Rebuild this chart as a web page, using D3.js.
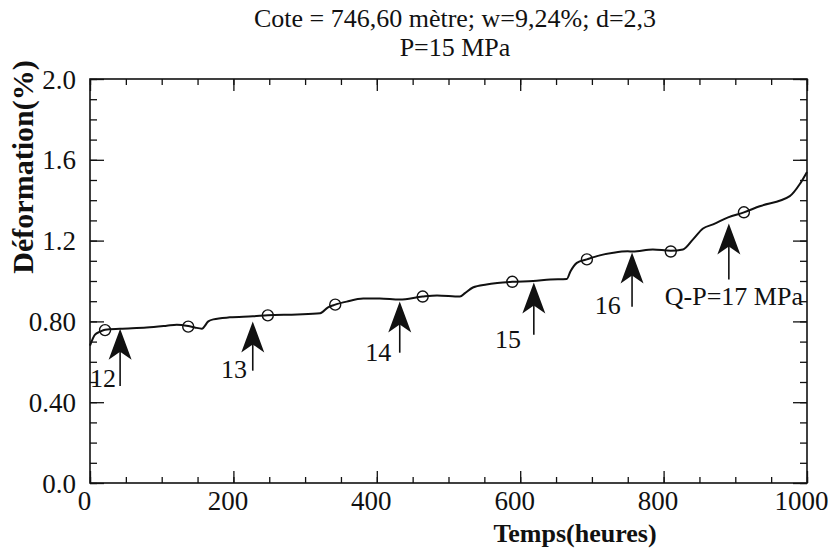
<!DOCTYPE html>
<html>
<head>
<meta charset="utf-8">
<script src="https://cdn.jsdelivr.net/npm/d3@7"></script>
<style>
  body { margin: 0; background: #fff; }
</style>
</head>
<body>
<div id="chart"></div>
<script>
// Courbe de fluage (temps en heures, deformation en %)
const timeH = [0, 7, 14, 21, 42, 79, 107, 121, 137, 146, 156, 165, 172, 195, 227, 248, 289, 321, 332, 342,
    358, 381, 404, 432, 464, 484, 516, 523, 534, 553, 568, 589, 618, 642, 665, 670, 679, 693, 711, 730,
    750, 757, 785, 810, 827, 841, 855, 869, 890, 912, 934, 976, 990, 1000];
const deform = [0.68, 0.734, 0.749, 0.759, 0.764, 0.77, 0.779, 0.784, 0.777, 0.77, 0.764, 0.80, 0.81, 0.82, 0.825, 0.83, 0.834, 0.84, 0.87, 0.883,
    0.898, 0.913, 0.913, 0.908, 0.923, 0.928, 0.923, 0.94, 0.968, 0.983, 0.99, 0.996, 1.0, 1.007, 1.01, 1.047, 1.09, 1.107, 1.127, 1.14,
    1.147, 1.146, 1.156, 1.15, 1.156, 1.206, 1.26, 1.28, 1.315, 1.34, 1.37, 1.42, 1.48, 1.54];

// cercles
const markT = [21, 137, 248, 342, 464, 589, 693, 810, 912];
const markD = [0.757, 0.774, 0.83, 0.883, 0.923, 0.996, 1.107, 1.146, 1.34];

// fleches (paliers de chargement)
const arrowT = [42, 227, 432, 619, 756, 891];
const arrowTip = [0.764, 0.80, 0.898, 0.993, 1.141, 1.285];
const arrowTail = [0.48, 0.556, 0.645, 0.734, 0.873, 1.007];
const arrowLabels = ["12", "13", "14", "15", "16", "Q-P=17 MPa"];
const labelT = [18, 201, 402, 583, 722, 898];
const labelD = [0.476, 0.521, 0.605, 0.670, 0.839, 0.883];

const xTicks = [0, 200, 400, 600, 800, 1000];
const yTicks = [0, 0.4, 0.8, 1.2, 1.6, 2.0];
const yTickLabels = ["0.0", "0.40", "0.80", "1.2", "1.6", "2.0"];

const titleLines = ["Cote = 746,60 mètre; w=9,24%; d=2,3", "P=15 MPa"];
const xTitle = "Temps(heures)";
const yTitle = "Déformation(%)";

const width = 828, height = 548;
const margin = { top: 79, right: 21, bottom: 65, left: 90 };
const serif = "'Liberation Serif', 'Times New Roman', 'DejaVu Serif', serif";
const ink = "#111";

const svg = d3.select("#chart").append("svg")
    .attr("width", width)
    .attr("height", height);

const x = d3.scaleLinear().domain([0, 1000]).range([margin.left, width - margin.right]);
const y = d3.scaleLinear().domain([0, 2]).range([height - margin.bottom, margin.top]);

// frame
svg.append("rect")
    .attr("x", x(0)).attr("y", y(2))
    .attr("width", x(1000) - x(0)).attr("height", y(0) - y(2))
    .attr("fill", "none").attr("stroke", ink).attr("stroke-width", 1.6);

// ticks (inward), minor and major, on all four sides
function tickAxis(axis, values, size, transform) {
    const g = svg.append("g")
        .attr("transform", transform)
        .call(axis.tickValues(values).tickSizeInner(-size).tickSizeOuter(0).tickFormat(""));
    g.select(".domain").remove();
    g.selectAll("line").attr("stroke", ink).attr("stroke-width", 1.3);
    return g;
}
const minorX = d3.range(0, 1001, 50), minorY = d3.range(0, 2.001, 0.1);
tickAxis(d3.axisBottom(x), minorX, 6, `translate(0,${y(0)})`);
tickAxis(d3.axisBottom(x), xTicks, 12, `translate(0,${y(0)})`);
tickAxis(d3.axisTop(x), minorX, 6, `translate(0,${y(2)})`);
tickAxis(d3.axisTop(x), xTicks, 12, `translate(0,${y(2)})`);
tickAxis(d3.axisLeft(y), minorY, 7, `translate(${x(0)},0)`);
tickAxis(d3.axisLeft(y), yTicks, 14, `translate(${x(0)},0)`);
tickAxis(d3.axisRight(y), minorY, 7, `translate(${x(1000)},0)`);
tickAxis(d3.axisRight(y), yTicks, 14, `translate(${x(1000)},0)`);

// tick labels
const xAxis = svg.append("g")
    .attr("transform", `translate(0,${y(0)})`)
    .call(d3.axisBottom(x).tickValues(xTicks).tickSize(0).tickPadding(8).tickFormat(d3.format("d")));
xAxis.select(".domain").remove();
xAxis.selectAll("text").attr("font-size", 27).attr("dx", -6)
    .attr("font-family", serif).attr("fill", ink);

const yAxis = svg.append("g")
    .attr("transform", `translate(${x(0)},0)`)
    .call(d3.axisLeft(y).tickValues(yTicks).tickSize(0).tickPadding(14).tickFormat((d, i) => yTickLabels[i]));
yAxis.select(".domain").remove();
yAxis.selectAll("text").attr("font-size", 27).attr("dy", "0.34em")
    .attr("font-family", serif).attr("fill", ink);

// curve
const pts = timeH.map((t, i) => [t, deform[i]]);
svg.append("path")
    .datum(pts)
    .attr("fill", "none")
    .attr("stroke", ink)
    .attr("stroke-width", 2)
    .attr("stroke-linejoin", "round")
    .attr("d", d3.line().x(d => x(d[0])).y(d => y(d[1])).curve(d3.curveMonotoneX));

// markers (open, the curve shows through)
svg.append("g").selectAll("circle")
    .data(markT.map((t, i) => [t, markD[i]]))
    .join("circle")
    .attr("cx", d => x(d[0]))
    .attr("cy", d => y(d[1]))
    .attr("r", 5.5)
    .attr("fill", "none")
    .attr("stroke", ink)
    .attr("stroke-width", 1.4);

// arrows
const arrows = svg.append("g").selectAll("g")
    .data(arrowT.map((t, i) => ({ t, tip: arrowTip[i], tail: arrowTail[i], label: arrowLabels[i], lt: labelT[i], ld: labelD[i] })))
    .join("g");

arrows.append("line")
    .attr("x1", d => x(d.t)).attr("x2", d => x(d.t))
    .attr("y1", d => y(d.tip) + 20).attr("y2", d => y(d.tail))
    .attr("stroke", ink).attr("stroke-width", 1.6);

arrows.append("path")
    .attr("transform", d => `translate(${x(d.t)},${y(d.tip)})`)
    .attr("d", "M0,0 L11.5,31 L0,23 L-11.5,31 Z")
    .attr("fill", ink);

arrows.append("text")
    .attr("x", d => x(d.lt))
    .attr("y", d => y(d.ld))
    .attr("text-anchor", "middle")
    .attr("font-family", serif)
    .attr("font-size", 26)
    .attr("fill", ink)
    .text(d => d.label);

// titles
svg.append("g").selectAll("text")
    .data(titleLines)
    .join("text")
    .attr("x", 455)
    .attr("y", (d, i) => 27 + i * 29)
    .attr("text-anchor", "middle")
    .attr("font-family", serif)
    .attr("font-size", 26)
    .attr("fill", ink)
    .text(d => d);

svg.append("text")
    .attr("x", 575)
    .attr("y", 542)
    .attr("text-anchor", "middle")
    .attr("font-family", serif)
    .attr("font-size", 26)
    .attr("font-weight", "bold")
    .attr("fill", ink)
    .text(xTitle);

svg.append("text")
    .attr("transform", "translate(33,167) rotate(-90)")
    .attr("text-anchor", "middle")
    .attr("font-family", serif)
    .attr("font-size", 30)
    .attr("font-weight", "bold")
    .attr("fill", ink)
    .text(yTitle);
</script>
</body>
</html>
